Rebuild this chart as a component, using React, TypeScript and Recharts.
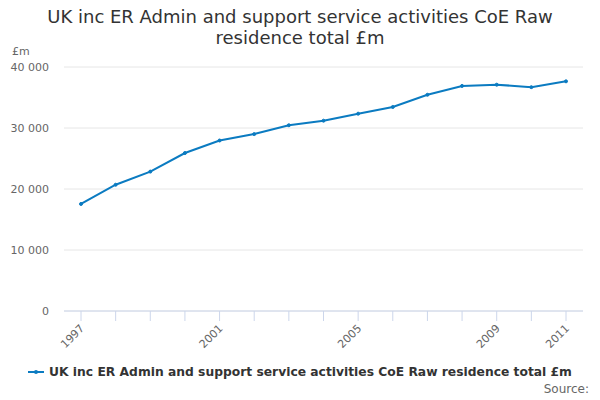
import React from 'react'
import { LineChart, Line, XAxis, YAxis, CartesianGrid } from 'recharts'

const years = [1997, 1998, 1999, 2000, 2001, 2002, 2003, 2004, 2005, 2006, 2007, 2008, 2009, 2010, 2011]
const values = [17550, 20700, 22850, 25900, 27950, 29000, 30450, 31200, 32350, 33450, 35450, 36900, 37100, 36700, 37650]
const yTicks = [0, 10000, 20000, 30000, 40000]
const labelledYears = [1997, 2001, 2005, 2009, 2011]

const seriesName = 'UK inc ER Admin and support service activities CoE Raw residence total £m'
const font = '"DejaVu Sans", sans-serif'
const lineColor = '#0b7bc1'

const data = years.map((year, i) => ({ year, value: values[i] }))

const fmt = (v: number) => v.toLocaleString('en-US').replace(/,/g, ' ')

function YearTick(props: any) {
  const { x, y, payload } = props
  const show = labelledYears.includes(Number(payload.value))
  return (
    <g>
      <line x1={x} y1={y - 8} x2={x} y2={y + 2} stroke="#ccd6eb" />
      {show && (
        <text
          x={x + 4}
          y={y + 10}
          transform={`rotate(-45, ${x + 4}, ${y + 10})`}
          textAnchor="end"
          fontSize={11}
          fill="#666"
          fontFamily={font}
        >
          {payload.value}
        </text>
      )}
    </g>
  )
}

export default function App() {
  return (
    <div style={{ position: 'absolute', left: 0, top: 0, width: 600, height: 400, background: '#fff', fontFamily: font }}>
      <div style={{ position: 'absolute', top: 6, left: 0, width: 600, textAlign: 'center', fontSize: 18, lineHeight: '21px', color: '#333' }}>
        UK inc ER Admin and support service activities CoE Raw<br />residence total £m
      </div>
      <div style={{ position: 'absolute', top: 45, left: 12, fontSize: 11, color: '#666' }}>£m</div>
      <LineChart width={600} height={400} data={data} margin={{ top: 67, right: 17, bottom: 49, left: 8 }}>
        <CartesianGrid stroke="#e6e6e6" vertical={false} />
        <XAxis
          dataKey="year"
          interval={0}
          padding={{ left: 17, right: 17 }}
          axisLine={{ stroke: '#ccd6eb' }}
          tickLine={false}
          tick={<YearTick />}
          height={40}
        />
        <YAxis
          width={56}
          domain={[0, 40000]}
          ticks={yTicks}
          tickFormatter={fmt}
          axisLine={false}
          tickLine={false}
          tickSize={0}
          tickMargin={15}
          tick={{ fill: '#666', fontSize: 11, fontFamily: font }}
        />
        <Line
          type="linear"
          dataKey="value"
          stroke={lineColor}
          strokeWidth={2}
          dot={{ r: 1.5, fill: lineColor, stroke: lineColor, strokeWidth: 1 }}
          isAnimationActive={false}
        />
      </LineChart>
      <div style={{ position: 'absolute', top: 365, left: 0, width: 600, display: 'flex', justifyContent: 'center', alignItems: 'center', fontSize: 12.3, fontWeight: 'bold', color: '#333' }}>
        <svg width={16} height={10} style={{ marginRight: 5 }}>
          <line x1={0} y1={5} x2={16} y2={5} stroke={lineColor} strokeWidth={2} />
          <circle cx={8} cy={5} r={2} fill={lineColor} />
        </svg>
        {seriesName}
      </div>
      <div style={{ position: 'absolute', top: 382, right: 11, fontSize: 12, color: '#666' }}>Source:</div>
    </div>
  )
}
